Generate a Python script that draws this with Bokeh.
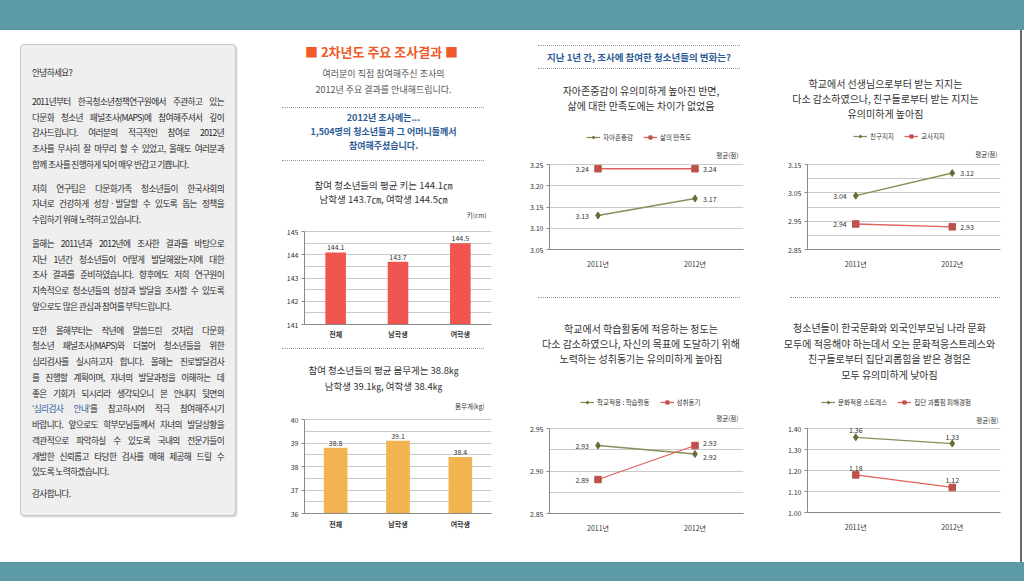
import numpy as np
from bokeh.plotting import figure
from bokeh.models import (Div, Spacer, Range1d, FactorRange, FixedTicker, Legend,
                          LegendItem, Label, ColumnDataSource, PrintfTickFormatter)
from bokeh.layouts import row, column
from bokeh.embed import file_html
from bokeh.resources import INLINE
from bokeh.core.properties import value

KR = "Noto Sans CJK KR"

# ---------------- data ----------------
bar_cats = ["전체", "남학생", "여학생"]
height_vals = [144.1, 143.7, 144.5]
weight_vals = [38.8, 39.1, 38.4]
height_ticks = [141, 142, 143, 144, 145]
weight_ticks = [36, 37, 38, 39, 40]

years = ["2011년", "2012년"]
self_esteem = [3.13, 3.17]
life_sat = [3.24, 3.24]
friend_support = [3.04, 3.12]
teacher_support = [2.94, 2.93]
school_learning = [2.93, 2.92]
achievement = [2.89, 2.93]
accult_stress = [1.36, 1.33]
bullying = [1.18, 1.12]

TEAL = "#5d9ba8"
OLIVE = "#8c8c58"
OLIVE_D = "#6b6b38"
RED_L = "#e0605c"
RED_M = "#c0504d"
BAR_RED = "#f0564f"
BAR_ORG = "#f1b450"
BLUE = "#2d5d96"


def sp(w, h):
    return Spacer(width=w, height=h, margin=0)


def tdiv(html, w, h, pad_top, size, lh, color="#333", weight="normal",
         pad_left=0, pad_right=0, align="center"):
    return Div(text=(f'<div style="box-sizing:border-box;width:{w}px;height:{h}px;'
                     f'padding:{pad_top}px {pad_right}px 0 {pad_left}px;font-family:\'{KR}\';'
                     f'font-size:{size}px;line-height:{lh}px;color:{color};font-weight:{weight};'
                     f'text-align:{align};white-space:nowrap;overflow:visible">{html}</div>'),
               width=w, height=h, margin=0)


def dash(w, h, top, left, lw):
    return Div(text=(f'<div style="position:relative;width:{w}px;height:{h}px">'
                     f'<div style="position:absolute;left:{left}px;top:{top}px;width:{lw}px;'
                     f'border-top:1px dotted #9a9a9a"></div></div>'),
               width=w, height=h, margin=0)


def base_style(p):
    p.outline_line_color = None
    p.background_fill_color = "white"
    p.border_fill_color = "white"
    p.xgrid.grid_line_color = None
    p.ygrid.grid_line_color = "#c9c9c9"
    p.ygrid.grid_line_width = 1
    for ax in (p.xaxis, p.yaxis):
        ax.axis_line_color = "#8a8a8a"
        ax.major_label_text_font = KR
        ax.major_label_text_font_size = "7px"
        ax.major_label_text_color = "#333333"
        ax.minor_tick_line_color = None
    p.yaxis.major_tick_line_color = "#8a8a8a"
    p.yaxis.major_tick_out = 3
    p.yaxis.major_tick_in = 0
    p.yaxis.major_label_standoff = 3
    p.xaxis.major_tick_line_color = None
    p.xaxis.major_tick_out = 0
    p.xaxis.major_tick_in = 0


def make_fig(factors, y0, y1, width, bl, br, data_top, data_h, bb):
    """Figure whose data band [y0, y1] fills data_h px; data_top px of blank frame above
    it hold the legend and unit text (kept inside the frame so nothing is clipped)."""
    y_top = y1 + (y1 - y0) * data_top / data_h
    p = figure(x_range=FactorRange(*factors), y_range=Range1d(y0, y_top),
               width=width, height=data_top + data_h + bb, min_border_left=bl,
               min_border_right=br, min_border_top=0, min_border_bottom=bb,
               output_backend="svg", toolbar_location=None, tools="")
    base_style(p)
    p.yaxis.bounds = (y0, y1)
    return p


def px_to_y(y0, y1, data_top, data_h, px_from_top):
    return y1 + (y1 - y0) * (data_top - px_from_top) / data_h


def bar_chart(vals, ticks, color, bar_w, width, bl, br, data_top, data_h, bb,
              unit_text, unit_dx, unit_px, xstand):
    y0, y1 = ticks[0], ticks[-1]
    p = make_fig(bar_cats, y0, y1, width, bl, br, data_top, data_h, bb)
    p.vbar(x=bar_cats, top=vals, bottom=y0, width=bar_w, fill_color=color,
           line_color=None)
    p.text(x=bar_cats, y=vals, text=[f"{v:.1f}" for v in vals], text_align="center",
           text_baseline="bottom", y_offset=-2, text_font=value(KR),
           text_font_size="7px", text_color="#333333")
    p.yaxis.ticker = FixedTicker(ticks=ticks)
    p.ygrid.ticker = FixedTicker(ticks=list(np.arange(y0, y1 + 0.01, 0.5)))
    p.xaxis.major_label_text_font_style = "bold"
    p.xaxis.major_label_standoff = xstand
    p.add_layout(Label(x=len(bar_cats), y=px_to_y(y0, y1, data_top, data_h, unit_px),
                       x_offset=-unit_dx, text=unit_text, text_align="right",
                       text_baseline="middle", text_font=KR, text_font_size="6.5px",
                       text_color="#333333"))
    return p


def line_chart(n1, s1, n2, s2, y0, y1, lab_step, grid_step, width, bl, br,
               data_top, bb, leg_x, leg_px, unit_dx, unit_px,
               above=False, right_dy=(0, 0), data_h=85):
    p = make_fig(years, y0, y1, width, bl, br, data_top, data_h, bb)
    p.yaxis.ticker = FixedTicker(ticks=[round(t, 3) for t in np.arange(y0, y1 + 1e-9, lab_step)])
    p.ygrid.ticker = FixedTicker(ticks=[round(t, 4) for t in np.arange(y0, y1 + 1e-9, grid_step)])
    p.yaxis.formatter = PrintfTickFormatter(format="%.2f")
    p.xaxis.major_label_standoff = 9

    l1 = p.line(x=years, y=s1, line_color=OLIVE, line_width=1.3)
    m1 = p.scatter(x=years, y=s1, marker="diamond", size=7, fill_color=OLIVE_D,
                   line_color=OLIVE_D)
    l2 = p.line(x=years, y=s2, line_color=RED_L, line_width=1.3)
    m2 = p.scatter(x=years, y=s2, marker="square", size=6.5, fill_color=RED_M,
                   line_color=RED_M)

    for k, s in enumerate((s1, s2)):
        labels = [f"{v:.2f}" for v in s]
        if above:
            src = ColumnDataSource(dict(x=years, y=s, t=labels))
            p.text(x="x", y="y", text="t", source=src, text_align="center",
                   text_baseline="bottom", y_offset=-4, text_font=value(KR),
                   text_font_size="7px", text_color="#333333")
        else:
            left = ColumnDataSource(dict(x=years[:1], y=s[:1], t=labels[:1]))
            right = ColumnDataSource(dict(x=years[1:], y=s[1:], t=labels[1:]))
            p.text(x="x", y="y", text="t", source=left, text_align="right",
                   text_baseline="middle", x_offset=-9, text_font=value(KR),
                   text_font_size="7px", text_color="#333333")
            p.text(x="x", y="y", text="t", source=right, text_align="left",
                   text_baseline="middle", x_offset=8, y_offset=right_dy[k],
                   text_font=value(KR), text_font_size="7px", text_color="#333333")

    frame_h = data_top + data_h
    leg = Legend(items=[LegendItem(label=n1, renderers=[l1, m1]),
                        LegendItem(label=n2, renderers=[l2, m2])],
                 orientation="horizontal", location=(leg_x, frame_h - leg_px - 4),
                 glyph_width=14, glyph_height=8, label_height=8, label_standoff=3,
                 spacing=10, padding=0, margin=0, label_text_font=KR,
                 label_text_font_size="6.5px", label_text_color="#333333",
                 background_fill_alpha=0, border_line_alpha=0)
    p.add_layout(leg)
    p.add_layout(Label(x=len(years), y=px_to_y(y0, y1, data_top, data_h, unit_px),
                       x_offset=-unit_dx, text="평균(점)", text_align="right",
                       text_baseline="middle", text_font=KR, text_font_size="6.5px",
                       text_color="#333333"))
    return p


# ---------------- left text box ----------------
paras = [
    ["안녕하세요?"],
    ["2011년부터 한국청소년정책연구원에서 주관하고 있는",
     "다문화 청소년 패널조사(MAPS)에 참여해주셔서 깊이",
     "감사드립니다. 여러분의 적극적인 참여로 2012년",
     "조사를 무사히 잘 마무리 할 수 있었고, 올해도 여러분과",
     "함께 조사를 진행하게 되어 매우 반갑고 기쁩니다."],
    ["저희 연구팀은 다문화가족 청소년들이 한국사회의",
     "자녀로 건강하게 성장ㆍ발달할 수 있도록 돕는 정책을",
     "수립하기 위해 노력하고 있습니다."],
    ["올해는 2011년과 2012년에 조사한 결과를 바탕으로",
     "지난 1년간 청소년들이 어떻게 발달해왔는지에 대한",
     "조사 결과를 준비하였습니다. 향후에도 저희 연구원이",
     "지속적으로 청소년들의 성장과 발달을 조사할 수 있도록",
     "앞으로도 많은 관심과 참여를 부탁드립니다."],
    ["또한 올해부터는 작년에 말씀드린 것처럼 다문화",
     "청소년 패널조사(MAPS)와 더불어 청소년들을 위한",
     "심리검사를 실시하고자 합니다. 올해는 진로발달검사",
     "를 진행할 계획이며, 자녀의 발달과정을 이해하는 데",
     "좋은 기회가 되시리라 생각되오니 본 안내지 뒷면의",
     f"<span style='color:{BLUE}'>‘심리검사 안내’</span>를 참고하시어 적극 참여해주시기",
     "바랍니다. 앞으로도 학부모님들께서 자녀의 발달상황을",
     "객관적으로 파악하실 수 있도록 국내의 전문가들이",
     "개발한 신뢰롭고 타당한 검사를 매해 제공해 드릴 수",
     "있도록 노력하겠습니다."],
    ["감사합니다."],
]
gaps = [13, 8, 8, 8, 5.5, 0]
html = ""
for para, g in zip(paras, gaps):
    html += f'<div style="margin-bottom:{g}px">'
    for i, ln in enumerate(para):
        last = i == len(para) - 1
        al = "text-align:left" if last else "text-align:justify;text-align-last:justify"
        html += f'<div style="white-space:nowrap;{al}">{ln}</div>'
    html += "</div>"
left_box = Div(text=(f'<div style="box-sizing:border-box;width:216px;height:472px;'
                     f'background:#efefef;border:1px solid #c6c6c6;border-radius:4px;'
                     f'box-shadow:1px 1px 2px #cfcfcf;padding:20px 11px 0 11px;'
                     f'font-family:\'{KR}\';font-size:8.7px;letter-spacing:-0.65px;'
                     f'line-height:15.75px;color:#2b2b2b">{html}</div>'),
               width=216, height=472, margin=0)
left_col = column(sp(216, 14), left_box, sp(216, 46), spacing=0)

# ---------------- middle column ----------------
MW = 245
mid_header = tdiv("■ 2차년도 주요 조사결과 ■", MW, 24, 0, 13, 24, color="#f0592a",
                  weight="bold", pad_left=6)
mid_intro = tdiv("여러분이 직접 참여해주신 조사의<br>2012년 주요 결과를 안내해드립니다.",
                 MW, 36, 2, 9, 16, color="#555555", pad_left=10)
mid_blue = tdiv("2012년 조사에는...<br>1,504명의 청소년들과 그 어머니들께서<br>참여해주셨습니다.",
                MW, 42, 0, 9, 14, color=BLUE, weight="bold", pad_left=10)
mid_h = tdiv(f"참여 청소년들의 평균 키는 {height_vals[0]}㎝<br>"
             f"남학생 {height_vals[1]}㎝, 여학생 {height_vals[2]}㎝",
             MW, 48, 16, 9.5, 14, color="#333333", pad_left=10)
bar1 = bar_chart(height_vals, height_ticks, BAR_RED, 0.33, MW, 45, 10, 21, 93, 17,
                 "키(cm)", 5, 4, 4)
mid_w = tdiv(f"참여 청소년들의 평균 몸무게는 {weight_vals[0]}㎏<br>"
             f"남학생 {weight_vals[1]}㎏, 여학생 {weight_vals[2]}㎏",
             MW, 51, 12, 9.5, 16, color="#333333", pad_left=10)
bar2 = bar_chart(weight_vals, weight_ticks, BAR_ORG, 0.38, MW, 48, 6, 18, 94, 22,
                 "몸무게(kg)", 7, 4, 5)
mid_col = column(sp(MW, 10), mid_header, mid_intro, dash(MW, 11, 6, 26, 202), mid_blue,
                 dash(MW, 9, 4, 26, 202), mid_h, bar1, dash(MW, 9, 4, 26, 202), mid_w,
                 bar2, sp(MW, 27), spacing=0)

# ---------------- right column 1 ----------------
R1 = 260
r_header = Div(text=(f'<div style="width:{R1}px;height:35px;padding-top:5px;box-sizing:border-box">'
                     f'<div style="margin-left:33px;width:202px;border-top:1px dotted #9a9a9a;'
                     f'border-bottom:1px dotted #9a9a9a;text-align:center;font-family:\'{KR}\';'
                     f'font-weight:bold;font-size:9.5px;line-height:22px;color:{BLUE};'
                     f'white-space:nowrap">지난 1년 간, 조사에 참여한 청소년들의 변화는?</div></div>'),
               width=R1, height=35, margin=0)
t1 = tdiv("자아존중감이 유의미하게 높아진 반면,<br>삶에 대한 만족도에는 차이가 없었음",
          R1, 51, 8, 10, 15, pad_left=12)
# fig top 126 -> data band 164..249
c1 = line_chart("자아존중감", self_esteem, "삶의 만족도", life_sat, 3.05, 3.25, 0.05, 0.05,
                R1, 43, 22, 38, 23, 37, 12, 5, 28)
t3 = tdiv("학교에서 학습활동에 적응하는 정도는<br>다소 감소하였으나, 자신의 목표에 도달하기 위해<br>"
          "노력하는 성취동기는 유의미하게 높아짐", R1, 93, 21, 10, 15, pad_left=12)
# fig top 393 -> data band 428..513
c3 = line_chart("학교적응 : 학습활동", school_learning, "성취동기", achievement,
                2.85, 2.95, 0.05, 0.025, R1, 44, 22, 35, 22, 31, 10, 5, 24,
                right_dy=(3, -3))
r1_col = column(sp(R1, 10), r_header, t1, c1, dash(R1, 28, 25, 33, 202), t3, c3,
                sp(R1, 27), spacing=0)

# ---------------- right column 2 ----------------
R2 = 255
t2 = tdiv("학교에서 선생님으로부터 받는 지지는<br>다소 감소하였으나, 친구들로부터 받는 지지는<br>"
          "유의미하게 높아짐", R2, 95, 46, 10, 15, pad_right=14)
# fig top 125 -> data band 164..249
c2 = line_chart("친구지지", friend_support, "교사지지", teacher_support, 2.85, 3.15, 0.1, 0.05,
                R2, 42, 19, 39, 23, 46, 12, 3, 28)
t4 = tdiv("청소년들이 한국문화와 외국인부모님 나라 문화<br>모두에 적응해야 하는데서 오는 문화적응스트레스와<br>"
          "친구들로부터 집단괴롭힘을 받은 경험은<br>모두 유의미하게 낮아짐", R2, 95, 20, 10, 15.7,
          pad_right=6)
# fig top 395 -> data band 429..514
c4 = line_chart("문화적응 스트레스", accult_stress, "집단 괴롭힘 피해경험", bullying,
                1.00, 1.40, 0.1, 0.1, R2, 41, 20, 34, 20, 14, 10, 2, 25, above=True)
r2_col = column(t2, c2, dash(R2, 28, 25, 25, 210), t4, c4, sp(R2, 28), spacing=0)

edge = Div(text='<div style="width:2px;height:532px;background:#6a6a6a"></div>',
           width=2, height=532, margin=0)

body = row(sp(20, 532), left_col, sp(20, 532), mid_col, sp(4, 532), r1_col, r2_col, edge,
           sp(2, 532), spacing=0)

top_band = Div(text=f'<div style="width:1024px;height:30px;background:{TEAL}"></div>',
               width=1024, height=30, margin=0)
bottom_band = Div(text=f'<div style="width:1024px;height:19px;background:{TEAL}"></div>',
                  width=1024, height=19, margin=0)

page = column(top_band, body, bottom_band, spacing=0)

with open("out.html", "w") as f:
    f.write(file_html(page, INLINE))
